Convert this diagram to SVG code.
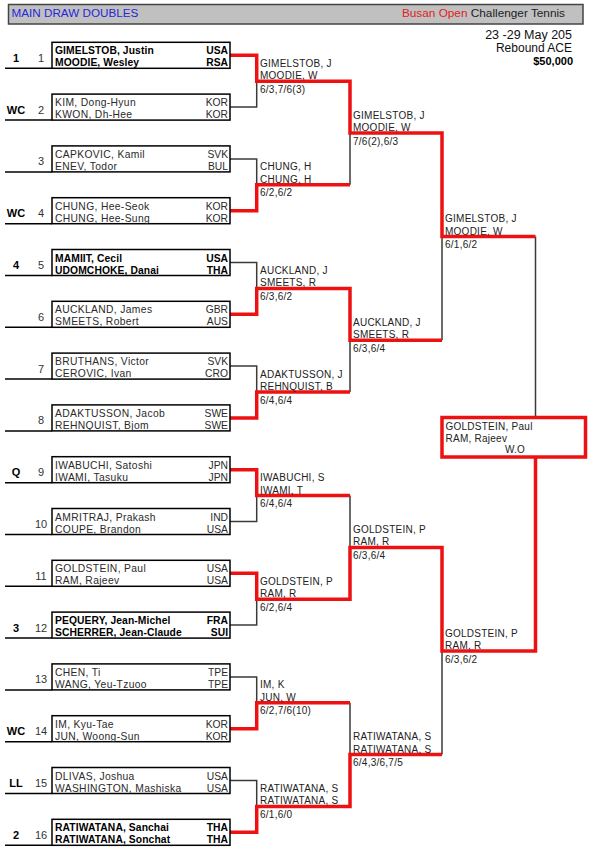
<svg xmlns="http://www.w3.org/2000/svg" width="590" height="849" viewBox="0 0 590 849">
<style>
text{font-family:"Liberation Sans",Arial,sans-serif}
.nm{font-size:10.3px;fill:#2a2a2a;letter-spacing:0.35px}
.nb{font-weight:bold;fill:#000;letter-spacing:0.1px}
.cc{text-anchor:end;letter-spacing:0}
.sd{font-size:11px;font-weight:bold;text-anchor:middle;fill:#000}
.no{font-size:11px;text-anchor:middle;fill:#333}
.lb{font-size:10px;letter-spacing:0.25px;fill:#222}
.box{fill:#fff;stroke:#000;stroke-width:1.5}
.base{fill:none;stroke:#000;stroke-width:1.5}
.ln{fill:none;stroke:#3a3a3a;stroke-width:1.5}
.win{fill:none;stroke:#ee1111;stroke-width:3.5;stroke-linejoin:miter}
</style>
<rect width="590" height="849" fill="#fff"/>
<g id="header">
<rect x="8.5" y="4.5" width="574.5" height="19.5" fill="#c0c0c0" stroke="#444" stroke-width="1.5"/>
<text x="11.5" y="16.8" font-size="11.7" fill="#2626d9">MAIN DRAW DOUBLES</text>
<text x="565" y="16.8" font-size="11.8" text-anchor="end"><tspan fill="#e32020">Busan Open</tspan><tspan fill="#222"> Challenger Tennis</tspan></text>
<text x="572" y="39" font-size="12.5" text-anchor="end" fill="#111">23 -29 May 205</text>
<text x="572" y="52" font-size="12" text-anchor="end" fill="#111">Rebound ACE</text>
<text x="573" y="65" font-size="11" font-weight="bold" text-anchor="end" fill="#000">$50,000</text>
</g>
<g id="connectors">
<path class="ln" d="M230,107.1H256.7V81.2 M230,158.9H256.7V184.8 M230,262.5H256.7V288.4 M230,366.1H256.7V392 M230,521.5H256.7V495.6 M230,625.1H256.7V599.2 M230,676.9H256.7V702.8 M230,780.5H256.7V806.4 M350,184.8V133 M350,392V340.2 M350,495.6V547.4 M350,702.8V754.6 M442,340.2V236.6 M442,754.6V651 M535.5,236.6V417.5"/>
<path class="win" d="M230,55.3H256.7V81.2H350V133H442V236.6H535.5"/>
<path class="win" d="M230,210.7H256.7V184.8H350"/>
<path class="win" d="M230,314.3H256.7V288.4H350V340.2H442"/>
<path class="win" d="M230,417.9H256.7V392H350"/>
<path class="win" d="M230,469.7H256.7V495.6H350"/>
<path class="win" d="M230,573.3H256.7V599.2H350V547.4H442V651H535.5V457"/>
<path class="win" d="M230,728.7H256.7V702.8H350"/>
<path class="win" d="M230,832.3H256.7V806.4H350V754.6H442"/>
</g>
<g id="e1"><path class="base" d="M5,68.3H52"/><rect class="box" x="52" y="42.3" width="178" height="26"/><text class="sd" x="16" y="61.8">1</text><text class="no" x="41" y="61.8">1</text><text class="nm nb" x="55" y="54.3">GIMELSTOB, Justin</text><text class="nm nb" x="55" y="66.3">MOODIE, Wesley</text><text class="nm nb cc" x="228" y="54.3">USA</text><text class="nm nb cc" x="228" y="66.3">RSA</text></g>
<g id="e2"><path class="base" d="M5,120.1H52"/><rect class="box" x="52" y="94.1" width="178" height="26"/><text class="sd" x="16" y="113.6">WC</text><text class="no" x="41" y="113.6">2</text><text class="nm" x="55" y="106.1">KIM, Dong-Hyun</text><text class="nm" x="55" y="118.1">KWON, Dh-Hee</text><text class="nm cc" x="228" y="106.1">KOR</text><text class="nm cc" x="228" y="118.1">KOR</text></g>
<g id="e3"><path class="base" d="M5,171.9H52"/><rect class="box" x="52" y="145.9" width="178" height="26"/><text class="no" x="41" y="165.4">3</text><text class="nm" x="55" y="157.9">CAPKOVIC, Kamil</text><text class="nm" x="55" y="169.9">ENEV, Todor</text><text class="nm cc" x="228" y="157.9">SVK</text><text class="nm cc" x="228" y="169.9">BUL</text></g>
<g id="e4"><path class="base" d="M5,223.7H52"/><rect class="box" x="52" y="197.7" width="178" height="26"/><text class="sd" x="16" y="217.2">WC</text><text class="no" x="41" y="217.2">4</text><text class="nm" x="55" y="209.7">CHUNG, Hee-Seok</text><text class="nm" x="55" y="221.7">CHUNG, Hee-Sung</text><text class="nm cc" x="228" y="209.7">KOR</text><text class="nm cc" x="228" y="221.7">KOR</text></g>
<g id="e5"><path class="base" d="M5,275.5H52"/><rect class="box" x="52" y="249.5" width="178" height="26"/><text class="sd" x="16" y="269">4</text><text class="no" x="41" y="269">5</text><text class="nm nb" x="55" y="261.5">MAMIIT, Cecil</text><text class="nm nb" x="55" y="273.5">UDOMCHOKE, Danai</text><text class="nm nb cc" x="228" y="261.5">USA</text><text class="nm nb cc" x="228" y="273.5">THA</text></g>
<g id="e6"><path class="base" d="M5,327.3H52"/><rect class="box" x="52" y="301.3" width="178" height="26"/><text class="no" x="41" y="320.8">6</text><text class="nm" x="55" y="313.3">AUCKLAND, James</text><text class="nm" x="55" y="325.3">SMEETS, Robert</text><text class="nm cc" x="228" y="313.3">GBR</text><text class="nm cc" x="228" y="325.3">AUS</text></g>
<g id="e7"><path class="base" d="M5,379.1H52"/><rect class="box" x="52" y="353.1" width="178" height="26"/><text class="no" x="41" y="372.6">7</text><text class="nm" x="55" y="365.1">BRUTHANS, Victor</text><text class="nm" x="55" y="377.1">CEROVIC, Ivan</text><text class="nm cc" x="228" y="365.1">SVK</text><text class="nm cc" x="228" y="377.1">CRO</text></g>
<g id="e8"><path class="base" d="M5,430.9H52"/><rect class="box" x="52" y="404.9" width="178" height="26"/><text class="no" x="41" y="424.4">8</text><text class="nm" x="55" y="416.9">ADAKTUSSON, Jacob</text><text class="nm" x="55" y="428.9">REHNQUIST, Bjom</text><text class="nm cc" x="228" y="416.9">SWE</text><text class="nm cc" x="228" y="428.9">SWE</text></g>
<g id="e9"><path class="base" d="M5,482.7H52"/><rect class="box" x="52" y="456.7" width="178" height="26"/><text class="sd" x="16" y="476.2">Q</text><text class="no" x="41" y="476.2">9</text><text class="nm" x="55" y="468.7">IWABUCHI, Satoshi</text><text class="nm" x="55" y="480.7">IWAMI, Tasuku</text><text class="nm cc" x="228" y="468.7">JPN</text><text class="nm cc" x="228" y="480.7">JPN</text></g>
<g id="e10"><path class="base" d="M5,534.5H52"/><rect class="box" x="52" y="508.5" width="178" height="26"/><text class="no" x="41" y="528">10</text><text class="nm" x="55" y="520.5">AMRITRAJ, Prakash</text><text class="nm" x="55" y="532.5">COUPE, Brandon</text><text class="nm cc" x="228" y="520.5">IND</text><text class="nm cc" x="228" y="532.5">USA</text></g>
<g id="e11"><path class="base" d="M5,586.3H52"/><rect class="box" x="52" y="560.3" width="178" height="26"/><text class="no" x="41" y="579.8">11</text><text class="nm" x="55" y="572.3">GOLDSTEIN, Paul</text><text class="nm" x="55" y="584.3">RAM, Rajeev</text><text class="nm cc" x="228" y="572.3">USA</text><text class="nm cc" x="228" y="584.3">USA</text></g>
<g id="e12"><path class="base" d="M5,638.1H52"/><rect class="box" x="52" y="612.1" width="178" height="26"/><text class="sd" x="16" y="631.6">3</text><text class="no" x="41" y="631.6">12</text><text class="nm nb" x="55" y="624.1">PEQUERY, Jean-Michel</text><text class="nm nb" x="55" y="636.1">SCHERRER, Jean-Claude</text><text class="nm nb cc" x="228" y="624.1">FRA</text><text class="nm nb cc" x="228" y="636.1">SUI</text></g>
<g id="e13"><path class="base" d="M5,689.9H52"/><rect class="box" x="52" y="663.9" width="178" height="26"/><text class="no" x="41" y="683.4">13</text><text class="nm" x="55" y="675.9">CHEN, Ti</text><text class="nm" x="55" y="687.9">WANG, Yeu-Tzuoo</text><text class="nm cc" x="228" y="675.9">TPE</text><text class="nm cc" x="228" y="687.9">TPE</text></g>
<g id="e14"><path class="base" d="M5,741.7H52"/><rect class="box" x="52" y="715.7" width="178" height="26"/><text class="sd" x="16" y="735.2">WC</text><text class="no" x="41" y="735.2">14</text><text class="nm" x="55" y="727.7">IM, Kyu-Tae</text><text class="nm" x="55" y="739.7">JUN, Woong-Sun</text><text class="nm cc" x="228" y="727.7">KOR</text><text class="nm cc" x="228" y="739.7">KOR</text></g>
<g id="e15"><path class="base" d="M5,793.5H52"/><rect class="box" x="52" y="767.5" width="178" height="26"/><text class="sd" x="16" y="787">LL</text><text class="no" x="41" y="787">15</text><text class="nm" x="55" y="779.5">DLIVAS, Joshua</text><text class="nm" x="55" y="791.5">WASHINGTON, Mashiska</text><text class="nm cc" x="228" y="779.5">USA</text><text class="nm cc" x="228" y="791.5">USA</text></g>
<g id="e16"><path class="base" d="M5,845.3H52"/><rect class="box" x="52" y="819.3" width="178" height="26"/><text class="sd" x="16" y="838.8">2</text><text class="no" x="41" y="838.8">16</text><text class="nm nb" x="55" y="831.3">RATIWATANA, Sanchai</text><text class="nm nb" x="55" y="843.3">RATIWATANA, Sonchat</text><text class="nm nb cc" x="228" y="831.3">THA</text><text class="nm nb cc" x="228" y="843.3">THA</text></g>
<g id="r1m1"><text class="lb" x="260" y="66.7">GIMELSTOB, J</text><text class="lb" x="260" y="79.2">MOODIE, W</text><text class="lb" x="260" y="92.7">6/3,7/6(3)</text></g>
<g id="r1m2"><text class="lb" x="260" y="170.3">CHUNG, H</text><text class="lb" x="260" y="182.8">CHUNG, H</text><text class="lb" x="260" y="196.3">6/2,6/2</text></g>
<g id="r1m3"><text class="lb" x="260" y="273.9">AUCKLAND, J</text><text class="lb" x="260" y="286.4">SMEETS, R</text><text class="lb" x="260" y="299.9">6/3,6/2</text></g>
<g id="r1m4"><text class="lb" x="260" y="377.5">ADAKTUSSON, J</text><text class="lb" x="260" y="390">REHNQUIST, B</text><text class="lb" x="260" y="403.5">6/4,6/4</text></g>
<g id="r1m5"><text class="lb" x="260" y="481.1">IWABUCHI, S</text><text class="lb" x="260" y="493.6">IWAMI, T</text><text class="lb" x="260" y="507.1">6/4,6/4</text></g>
<g id="r1m6"><text class="lb" x="260" y="584.7">GOLDSTEIN, P</text><text class="lb" x="260" y="597.2">RAM, R</text><text class="lb" x="260" y="610.7">6/2,6/4</text></g>
<g id="r1m7"><text class="lb" x="260" y="688.3">IM, K</text><text class="lb" x="260" y="700.8">JUN, W</text><text class="lb" x="260" y="714.3">6/2,7/6(10)</text></g>
<g id="r1m8"><text class="lb" x="260" y="791.9">RATIWATANA, S</text><text class="lb" x="260" y="804.4">RATIWATANA, S</text><text class="lb" x="260" y="817.9">6/1,6/0</text></g>
<g id="r2m1"><text class="lb" x="353" y="118.5">GIMELSTOB, J</text><text class="lb" x="353" y="131">MOODIE, W</text><text class="lb" x="353" y="144.5">7/6(2),6/3</text></g>
<g id="r2m2"><text class="lb" x="353" y="325.7">AUCKLAND, J</text><text class="lb" x="353" y="338.2">SMEETS, R</text><text class="lb" x="353" y="351.7">6/3,6/4</text></g>
<g id="r2m3"><text class="lb" x="353" y="532.9">GOLDSTEIN, P</text><text class="lb" x="353" y="545.4">RAM, R</text><text class="lb" x="353" y="558.9">6/3,6/4</text></g>
<g id="r2m4"><text class="lb" x="353" y="740.1">RATIWATANA, S</text><text class="lb" x="353" y="752.6">RATIWATANA, S</text><text class="lb" x="353" y="766.1">6/4,3/6,7/5</text></g>
<g id="r3m1"><text class="lb" x="445" y="222.1">GIMELSTOB, J</text><text class="lb" x="445" y="234.6">MOODIE, W</text><text class="lb" x="445" y="248.1">6/1,6/2</text></g>
<g id="r3m2"><text class="lb" x="445" y="636.5">GOLDSTEIN, P</text><text class="lb" x="445" y="649">RAM, R</text><text class="lb" x="445" y="662.5">6/3,6/2</text></g>
<g id="final"><rect x="442" y="417.5" width="143.5" height="39.5" fill="#fff" stroke="#ee1111" stroke-width="3.5"/><text class="lb" x="445.5" y="429.5" font-size="10.8">GOLDSTEIN, Paul</text><text class="lb" x="445.5" y="441.8" font-size="10.8">RAM, Rajeev</text><text class="lb" x="515" y="453.2" font-size="10.8" text-anchor="middle">W.O</text></g>
</svg>
